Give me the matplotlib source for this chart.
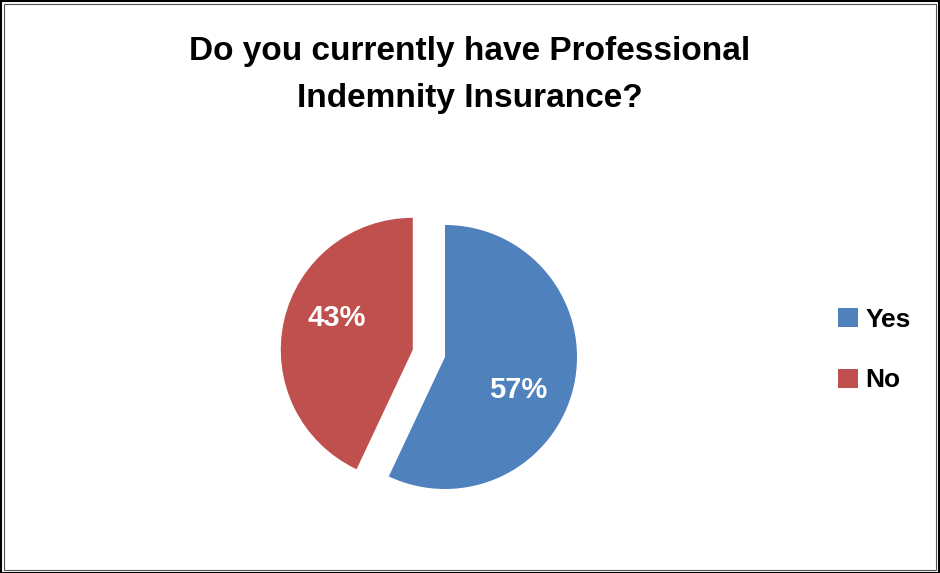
import matplotlib
matplotlib.use("Agg")
import matplotlib.pyplot as plt
from matplotlib.patches import Rectangle

title = "Do you currently have Professional\nIndemnity Insurance?"
categories = ["Yes", "No"]
shares = [57, 43]
colors = ["#4F81BD", "#C0504D"]

FONT = ["Liberation Sans Narrow", "Liberation Sans", "DejaVu Sans"]

W, H = 940, 573
fig = plt.figure(figsize=(W / 100, H / 100), dpi=100)
fig.patch.set_facecolor("white")

# axes spanning the figure; one data unit = pie radius (132 px)
R = 132.0
cx, cy = 445.0, 357.0
ax = fig.add_axes([0, 0, 1, 1])

wedges, texts, autotexts = ax.pie(
    shares,
    colors=colors,
    startangle=90,
    counterclock=False,
    explode=[0, 0.25],
    radius=1.0,
    autopct=lambda p: f"{p:.0f}%",
    pctdistance=0.6,
    textprops=dict(color="white", fontsize=21, fontweight="bold", family=FONT),
    wedgeprops=dict(linewidth=0),
)
ax.set_xlim(-cx / R, (W - cx) / R)
ax.set_ylim(-(H - cy) / R, cy / R)
ax.set_aspect("equal")
ax.axis("off")

# nudge the percentage labels toward their usual spot
autotexts[0].set_position((73 / R, -33 / R))
autotexts[1].set_position((-108 / R, 39 / R))

# title
fig.text(0.5, 1 - 75 / H, title, ha="center", va="center", fontsize=24,
         fontweight="bold", family=FONT, linespacing=1.65)

# legend
leg = fig.legend(
    wedges, categories,
    loc="center left", bbox_to_anchor=(814 / W, 1 - 350 / H),
    frameon=False, prop=dict(family=FONT, weight="bold", size=19),
    handlelength=0.75, handleheight=0.75, handletextpad=0.3, labelspacing=1.4,
)

# double frame around the chart
fig.patches.append(Rectangle((0.5 / W, 0.5 / H), 1 - 1.5 / W, 1 - 1.5 / H,
                             transform=fig.transFigure, fill=False,
                             edgecolor="black", linewidth=1.5))
fig.patches.append(Rectangle((3.5 / W, 3.5 / H), 1 - 7.5 / W, 1 - 7.5 / H,
                             transform=fig.transFigure, fill=False,
                             edgecolor="#555555", linewidth=0.8))

fig.savefig("out.png", dpi=100, facecolor="white")
